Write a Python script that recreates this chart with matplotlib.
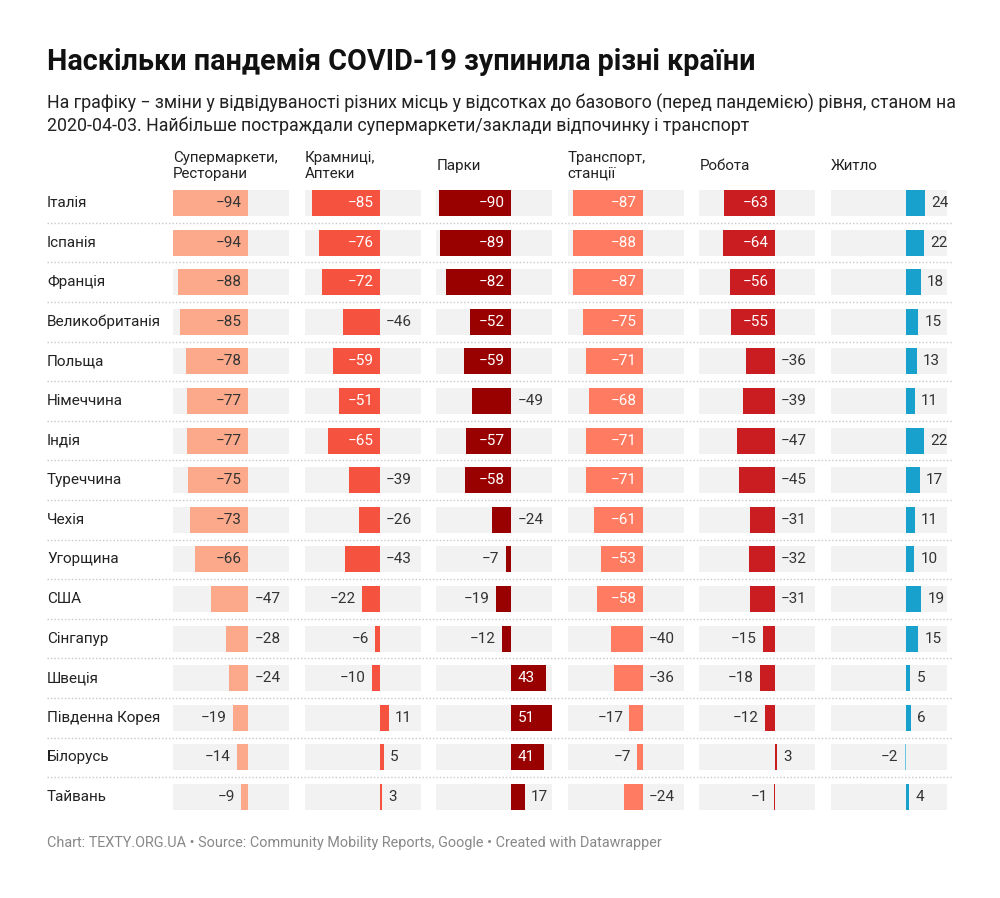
import matplotlib
matplotlib.use("Agg")
import matplotlib.pyplot as plt

plt.rcParams['font.family'] = ['Roboto', 'DejaVu Sans']

# === Data ===
countries = ["Італія", "Іспанія", "Франція", "Великобританія", "Польща",
             "Німеччина", "Індія", "Туреччина", "Чехія", "Угорщина", "США",
             "Сінгапур", "Швеція", "Південна Корея", "Білорусь", "Тайвань"]

headers = ["Супермаркети,\nРесторани", "Крамниці,\nАптеки", "Парки",
           "Транспорт,\nстанції", "Робота", "Житло"]

grocery = [-94, -94, -88, -85, -78, -77, -77, -75, -73, -66, -47, -28, -24, -19, -14, -9]
pharmacy = [-85, -76, -72, -46, -59, -51, -65, -39, -26, -43, -22, -6, -10, 11, 5, 3]
parks = [-90, -89, -82, -52, -59, -49, -57, -58, -24, -7, -19, -12, 43, 51, 41, 17]
transit = [-87, -88, -87, -75, -71, -68, -71, -71, -61, -53, -58, -40, -36, -17, -7, -24]
work = [-63, -64, -56, -55, -36, -39, -47, -45, -31, -32, -31, -15, -18, -12, 3, -1]
residential = [24, 22, 18, 15, 13, 11, 22, 17, 11, 10, 19, 15, 5, 6, -2, 4]

series = [grocery, pharmacy, parks, transit, work, residential]

# === Style ===
bar_colors = ["#fca98b", "#f5523f", "#990000", "#ff7b61", "#c91d22", "#18a1cd"]
neg_colors = ["#fca98b", "#f5523f", "#990000", "#ff7b61", "#c91d22", "#6cc3e3"]
inside_text = ["#333333", "white", "white", "white", "white", "white"]
band_color = "#f2f2f2"
text_color = "#333333"

W, H = 1000, 898
fig = plt.figure(figsize=(W / 100, H / 100), dpi=100)
fig.patch.set_facecolor("white")

n = len(countries)
row_top, row_pitch = 203, 39.6
y0_px = row_top - row_pitch / 2
y1_px = row_top + row_pitch * (n - 0.5)

def fig_rect(x0, x1):
  return [x0 / W, 1 - y1_px / H, (x1 - x0) / W, (y1_px - y0_px) / H]

lo = min(min(s) for s in series)
hi = max(max(s) for s in series)

# background axes: row labels + dotted separators
bg = fig.add_axes(fig_rect(47, 953))
bg.set_xlim(0, 1)
bg.set_ylim(n - 0.5, -0.5)
bg.axis("off")
for i in range(n - 1):
  bg.axhline(i + 0.5, color="#c8c8c8", lw=1, ls=(0, (1, 1.5)))
for i, c in enumerate(countries):
  bg.text(0, i, c, ha="left", va="center", fontsize=11, color="#222222")

pad = 4.5  # points
col_left, col_pitch, col_w = 173, 131.6, 116
bar_h = 0.66
for j, vals in enumerate(series):
  x0 = col_left + j * col_pitch
  ax = fig.add_axes(fig_rect(x0, x0 + col_w))
  ax.set_xlim(lo, hi)
  ax.set_ylim(n - 0.5, -0.5)
  ax.axis("off")
  ax.barh(range(n), [hi - lo] * n, left=lo, height=bar_h, color=band_color, zorder=1)
  cols = [bar_colors[j] if v >= 0 else neg_colors[j] for v in vals]
  ax.barh(range(n), vals, height=bar_h, color=cols, zorder=2)
  for i, v in enumerate(vals):
    s = str(v).replace("-", "\u2212")
    if v < 0:
      if v <= -50:
        xy, dx, ha, tc = (0, i), -pad, "right", inside_text[j]
      elif v <= -23:
        xy, dx, ha, tc = (0, i), pad, "left", text_color
      else:
        xy, dx, ha, tc = (v, i), -pad, "right", text_color
    else:
      if v >= 40:
        xy, dx, ha, tc = (0, i), pad, "left", inside_text[j]
      else:
        xy, dx, ha, tc = (v, i), pad, "left", text_color
    ax.annotate(s, xy, xytext=(dx, 0), textcoords="offset points",
                ha=ha, va="center", fontsize=11, color=tc, zorder=3)
  fig.text(x0 / W, 1 - 166 / H, headers[j], ha="left", va="center",
           fontsize=10.9, color="#222222", linespacing=1.12)

# titles
fig.text(47 / W, 1 - 62 / H, "Наскільки пандемія COVID-19 зупинила різні країни",
         ha="left", va="center", fontsize=20.7, fontweight="bold", color="#111111")
fig.text(47 / W, 1 - 114 / H,
         "На графіку \u2212 зміни у відвідуваності різних місць у відсотках до базового (перед пандемією) рівня, станом на\n"
         "2020-04-03. Найбільше постраждали супермаркети/заклади відпочинку і транспорт",
         ha="left", va="center", fontsize=12.75, color="#222222", linespacing=1.25)
fig.text(47 / W, 1 - 843 / H,
         "Chart: TEXTY.ORG.UA \u2022 Source: Community Mobility Reports, Google \u2022 Created with Datawrapper",
         ha="left", va="center", fontsize=10.35, color="#888888")

fig.savefig("out.png", dpi=100)
